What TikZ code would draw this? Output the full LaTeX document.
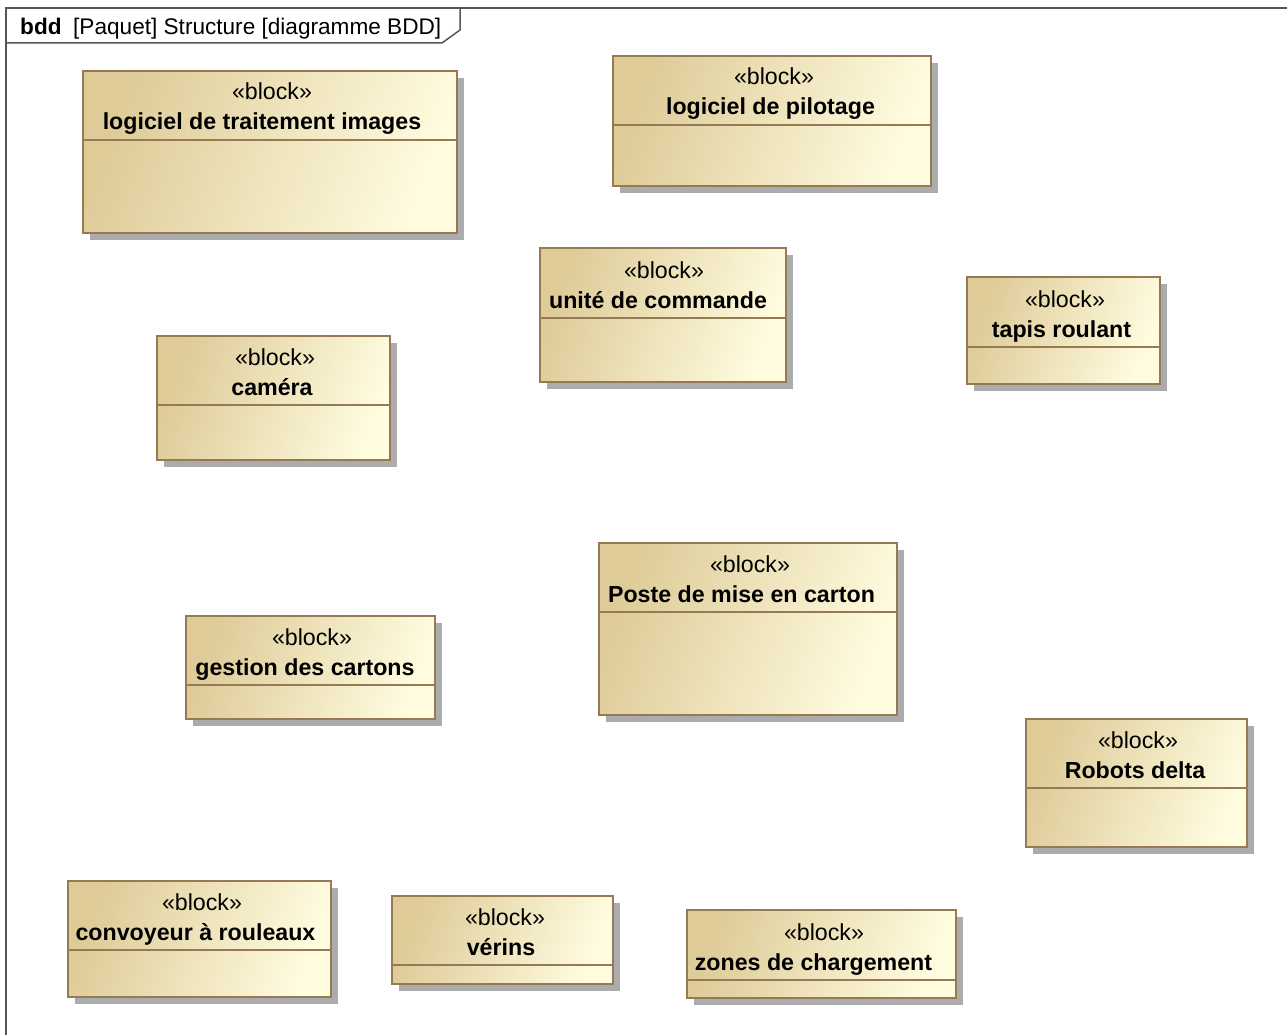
\documentclass[tikz,border=0pt]{standalone}
\usepackage{fontspec}
\setmainfont{Liberation Sans}
\definecolor{blkdark}{RGB}{222,203,152}
\definecolor{blklight}{RGB}{255,252,224}
\definecolor{blkedge}{RGB}{150,122,84}
\definecolor{shadowgray}{RGB}{172,172,172}
\definecolor{framegray}{RGB}{85,85,85}
\tikzset{
  x=1pt, y=-1pt,
  txt/.style={inner sep=0pt, anchor=base, font=\fontsize{23.2}{27}\selectfont},
  bold/.style={txt, font=\fontsize{23.2}{27}\selectfont\bfseries},
  ttl/.style={inner sep=0pt, anchor=base west, font=\fontsize{22.6}{27}\selectfont},
}
% \blk{name}{x1}{y1}{x2}{y2}{sep}{stereo cx}{name cx}{label}
\newcommand{\blk}[9]{%
  \fill[shadowgray] (#2+7,#3+7) rectangle (#4+7,#5+7);
  \shade[left color=blkdark, right color=blklight, shading angle=70] (#2,#3) rectangle (#4,#5);
  \draw[blkedge, line width=1.6pt] (#2,#3) rectangle (#4,#5);
  \draw[blkedge, line width=1.3pt] (#2,#6) -- (#4,#6);
  \node[txt] (#1s) at (#7,#6-40) {«block»};
  \node[bold] (#1) at (#8,#6-10) {#9};
}
\begin{document}
\begin{tikzpicture}
\useasboundingbox (0,0) rectangle (1287,1035);
\fill[white] (0,0) rectangle (1287,1035);
% frame
\draw[framegray, line width=2pt] (6,1040) -- (6,8) -- (1292,8);
\draw[framegray, line width=1.5pt] (6,43) -- (442,43) -- (460,30) -- (460,8);
\node[ttl, font=\fontsize{22.6}{27}\selectfont\bfseries] (bddk) at (20,35) {bdd};
\node[ttl] (title) at (73,35) {[Paquet] Structure [diagramme BDD]};
% blocks
\blk{b1}{83}{71}{457}{233}{140}{272}{262}{logiciel de traitement images}
\blk{b2}{613}{56}{931}{186}{125}{774}{770.5}{logiciel de pilotage}
\blk{b3}{540}{248}{786}{382}{318}{664}{658}{unité de commande}
\blk{b4}{967}{277}{1160}{384}{347}{1065}{1061.5}{tapis roulant}
\blk{b5}{157}{336}{390}{460}{405}{275}{272}{caméra}
\blk{b6}{599}{543}{897}{715}{612}{750}{741.5}{Poste de mise en carton}
\blk{b7}{186}{616}{435}{719}{685}{312}{305}{gestion des cartons}
\blk{b8}{1026}{719}{1247}{847}{788}{1138}{1135}{Robots delta}
\blk{b9}{68}{881}{331}{997}{950}{202}{195.5}{convoyeur à rouleaux}
\blk{b10}{392}{896}{613}{984}{965}{505}{501}{vérins}
\blk{b11}{687}{910}{956}{998}{980}{824}{813.5}{zones de chargement}
\end{tikzpicture}
\end{document}
